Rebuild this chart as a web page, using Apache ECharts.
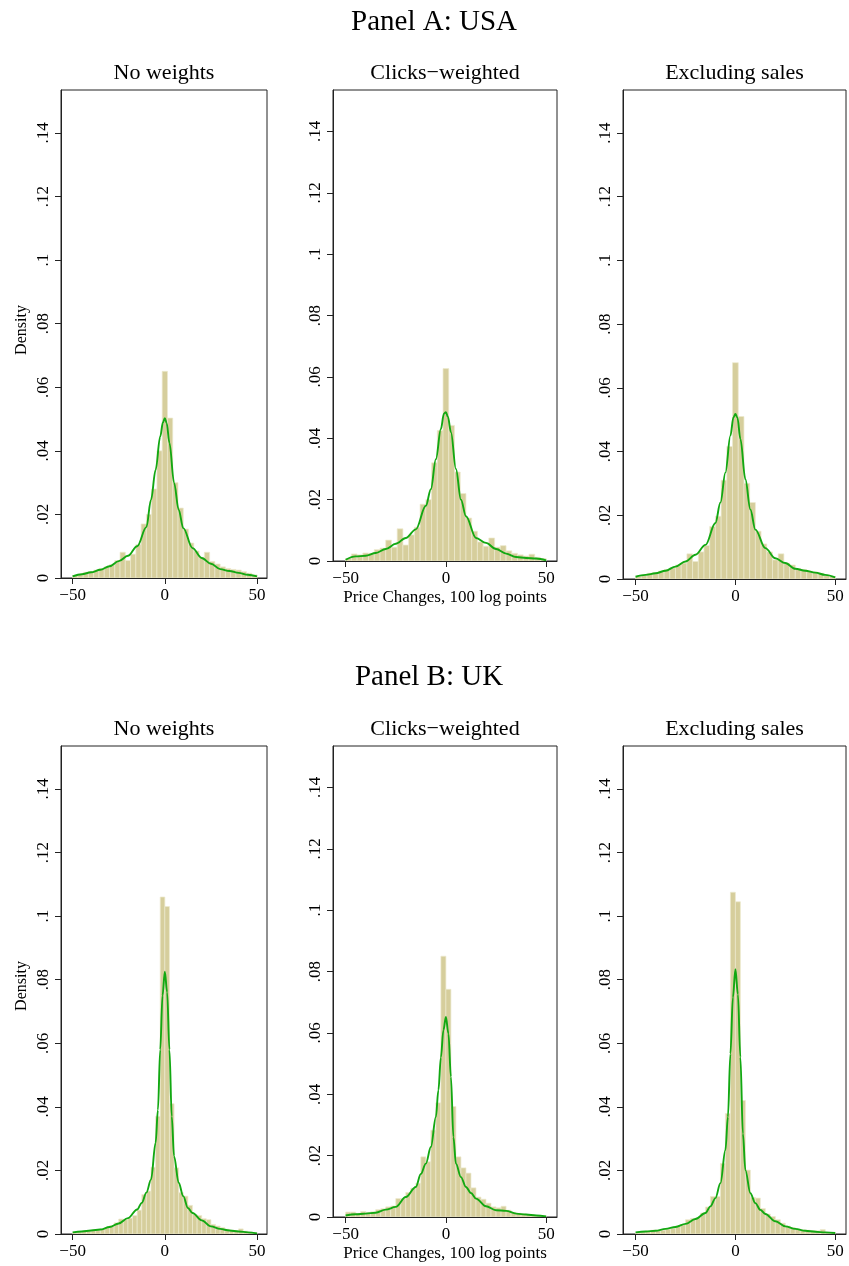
<!DOCTYPE html>
<html>
<head>
<meta charset="utf-8">
<script src="https://cdn.jsdelivr.net/npm/echarts@6/dist/echarts.min.js"></script>
<style>
html, body { margin: 0; padding: 0; background: #fff; }
#main { width: 849px; height: 1266px; }
</style>
</head>
<body>
<div id="main"></div>
<script>
var panelTitles = ['Panel A: USA', 'Panel B: UK'];
var subTitles = ['No weights', 'Clicks\u2212weighted', 'Excluding sales'];
var xTicks = [-50, 0, 50];
var yTicks = [0, 0.02, 0.04, 0.06, 0.08, 0.1, 0.12, 0.14];
var xTitle = 'Price Changes, 100 log points';
var yTitle = 'Density';

// histogram heights, bins evenly spread over -50..50 (35 bins in panel A, 40 in panel B)
var histUsaNoWeights = [0.0008, 0.0012, 0.0018, 0.002, 0.0025, 0.003, 0.0035, 0.0042, 0.0055, 0.0081,
	0.0055, 0.0075, 0.0105, 0.017, 0.020, 0.028, 0.040, 0.065, 0.0503, 0.030,
	0.022, 0.0154, 0.011, 0.0085, 0.0065, 0.0081, 0.0052, 0.0044, 0.0035, 0.003,
	0.0027, 0.0025, 0.002, 0.0015, 0.001];
var histUsaClicks = [0.0008, 0.0023, 0.002, 0.0026, 0.0025, 0.0037, 0.0042, 0.0068, 0.0045, 0.0105,
	0.0052, 0.0085, 0.011, 0.0185, 0.020, 0.032, 0.0425, 0.0627, 0.0442, 0.029,
	0.022, 0.014, 0.0097, 0.0062, 0.0048, 0.0075, 0.0045, 0.005, 0.0033, 0.0025,
	0.002, 0.0016, 0.0022, 0.0012, 0.0008];
var histUsaNoSales = [0.0008, 0.0012, 0.0018, 0.002, 0.0025, 0.003, 0.0035, 0.0044, 0.005, 0.0079,
	0.0055, 0.0085, 0.0105, 0.0165, 0.0197, 0.031, 0.0416, 0.0679, 0.051, 0.030,
	0.024, 0.015, 0.011, 0.0085, 0.006, 0.0079, 0.005, 0.0044, 0.0033, 0.003,
	0.0025, 0.0022, 0.0018, 0.0012, 0.0008];
var histUkNoWeights = [0.0004, 0.0006, 0.0009, 0.001, 0.0012, 0.0013, 0.0016, 0.002, 0.0026, 0.0035,
	0.0047, 0.0045, 0.005, 0.0058, 0.0075, 0.0124, 0.0135, 0.021, 0.037, 0.106,
	0.103, 0.041, 0.0208, 0.013, 0.0119, 0.009, 0.0061, 0.0058, 0.0048, 0.0045,
	0.003, 0.0025, 0.002, 0.0015, 0.0012, 0.001, 0.0016, 0.0009, 0.0006, 0.0004];
var histUkClicks = [0.0016, 0.0016, 0.0012, 0.0018, 0.0015, 0.0017, 0.0024, 0.0027, 0.0033, 0.0036,
	0.006, 0.006, 0.008, 0.0094, 0.011, 0.0196, 0.018, 0.0283, 0.0372, 0.085,
	0.0742, 0.036, 0.0196, 0.016, 0.0143, 0.0095, 0.0065, 0.0058, 0.0045, 0.0033,
	0.003, 0.0035, 0.0022, 0.0015, 0.0012, 0.001, 0.0008, 0.0006, 0.0005, 0.0003];
var histUkNoSales = [0.0004, 0.0006, 0.0009, 0.0012, 0.0012, 0.0012, 0.0015, 0.0018, 0.0025, 0.003,
	0.0045, 0.0049, 0.005, 0.0066, 0.0085, 0.0118, 0.0118, 0.0222, 0.0379, 0.1075,
	0.1045, 0.042, 0.0201, 0.0115, 0.0113, 0.008, 0.0063, 0.0055, 0.0045, 0.0034,
	0.0025, 0.002, 0.0016, 0.0013, 0.0012, 0.0011, 0.001, 0.0014, 0.0006, 0.0004];

// kernel density curves
var kdeXUsa = [-50, -45, -40, -35, -30, -25, -20, -15, -10, -7.5, -5, -2.5, -1, 0, 1, 2.5, 5, 7.5, 10, 15, 20, 25, 30, 35, 40, 45, 50];
var kdeUsaNoWeights = [0.0005, 0.0012, 0.0018, 0.0026, 0.0037, 0.0053, 0.007, 0.010, 0.016, 0.0246, 0.034, 0.0445, 0.049, 0.0503, 0.0487, 0.0425, 0.030, 0.0215, 0.0157, 0.0094, 0.0063, 0.0045, 0.0028, 0.0022, 0.0016, 0.001, 0.0005];
var kdeUsaClicks = [0.0004, 0.0015, 0.0017, 0.0026, 0.0039, 0.0056, 0.0075, 0.0103, 0.018, 0.0234, 0.0332, 0.043, 0.048, 0.0485, 0.047, 0.042, 0.030, 0.020, 0.0146, 0.0075, 0.0059, 0.0039, 0.0024, 0.0013, 0.001, 0.0008, 0.0002];
var kdeUsaNoSales = [0.0007, 0.0013, 0.0018, 0.0026, 0.0039, 0.0055, 0.0076, 0.0107, 0.0176, 0.024, 0.0334, 0.045, 0.0507, 0.0518, 0.0507, 0.044, 0.0313, 0.0218, 0.0155, 0.0097, 0.0065, 0.005, 0.0032, 0.0026, 0.002, 0.0013, 0.0005];
var kdeXUk = [-50, -45, -40, -35, -30, -25, -20, -15, -12.5, -10, -7.5, -5, -3.75, -2.5, -1.25, 0, 1.25, 2.5, 3.75, 5, 7.5, 10, 12.5, 15, 20, 25, 30, 35, 40, 45, 50];
var kdeUkNoWeights = [0.0005, 0.0008, 0.0011, 0.0014, 0.0022, 0.0033, 0.005, 0.0077, 0.0098, 0.013, 0.0171, 0.0287, 0.039, 0.058, 0.075, 0.0825, 0.076, 0.058, 0.037, 0.0245, 0.0161, 0.0119, 0.0082, 0.0066, 0.0043, 0.0024, 0.0016, 0.0011, 0.0008, 0.0005, 0.0002];
var kdeUkClicks = [0.0005, 0.0009, 0.0011, 0.0014, 0.0024, 0.0033, 0.0065, 0.0098, 0.014, 0.0174, 0.0228, 0.0326, 0.0413, 0.052, 0.0609, 0.0652, 0.0598, 0.0457, 0.026, 0.0174, 0.013, 0.0098, 0.0078, 0.006, 0.0035, 0.0022, 0.002, 0.0011, 0.0008, 0.0005, 0.0002];
var kdeUkNoSales = [0.0005, 0.0008, 0.001, 0.0016, 0.0022, 0.0032, 0.0047, 0.0066, 0.0087, 0.0113, 0.016, 0.0264, 0.0368, 0.0567, 0.0744, 0.0833, 0.0754, 0.0556, 0.0316, 0.0201, 0.0128, 0.0097, 0.0076, 0.0063, 0.004, 0.0024, 0.0016, 0.001, 0.0007, 0.0005, 0.0003];

var panels = [
	{ hist: histUsaNoWeights, kx: kdeXUsa, ky: kdeUsaNoWeights },
	{ hist: histUsaClicks, kx: kdeXUsa, ky: kdeUsaClicks },
	{ hist: histUsaNoSales, kx: kdeXUsa, ky: kdeUsaNoSales },
	{ hist: histUkNoWeights, kx: kdeXUk, ky: kdeUkNoWeights },
	{ hist: histUkClicks, kx: kdeXUk, ky: kdeUkClicks },
	{ hist: histUkNoSales, kx: kdeXUk, ky: kdeUkNoSales }
];

// plot boxes [left, top, width, height]
var boxes = [
	[61, 90, 206, 488], [333, 90, 224, 471], [623, 90, 223, 489],
	[61, 746, 206, 488], [333, 746, 224, 471], [623, 746, 223, 488]
];

var serif = 'Liberation Serif, Times New Roman, serif';
var barFill = '#d6ce9c';
var barEdge = '#ede9cf';
var kdeColor = '#12a812';

function minus(v) {
	return String(v).replace('-', '\u2212');
}

function histRows(vals) {
	var w = 100 / vals.length;
	return vals.map(function (v, i) {
		return [-50 + i * w, -50 + (i + 1) * w, v];
	});
}

function renderBar(params, api) {
	var p0 = api.coord([api.value(0), api.value(2)]);
	var p1 = api.coord([api.value(1), 0]);
	return {
		type: 'rect',
		shape: { x: p0[0], y: p0[1], width: p1[0] - p0[0], height: p1[1] - p0[1] },
		style: { fill: barFill, stroke: barEdge, lineWidth: 0.7 }
	};
}

var grids = [], xAxes = [], yAxes = [], series = [], graphics = [];

panels.forEach(function (p, i) {
	var b = boxes[i];
	var mid = (i % 3 == 1);
	grids.push({
		left: b[0], top: b[1], width: b[2], height: b[3],
		show: true, borderColor: '#222', borderWidth: 1, backgroundColor: '#fff'
	});
	xAxes.push({
		gridIndex: i, type: 'value', min: -56.3, max: 55.4,
		splitLine: { show: false },
		axisLine: { show: true, onZero: false, lineStyle: { color: '#222', width: 1 } },
		axisTick: { show: true, length: 6, customValues: xTicks, lineStyle: { color: '#222' } },
		axisLabel: {
			customValues: xTicks, margin: 9, color: '#000', fontFamily: serif, fontSize: 17,
			formatter: function (v) { return minus(v); }
		},
		name: mid ? xTitle : '', nameLocation: 'middle', nameGap: 28,
		nameTextStyle: { color: '#000', fontFamily: serif, fontSize: 17 }
	});
	yAxes.push({
		gridIndex: i, type: 'value', min: 0, max: 0.1535,
		splitLine: { show: false },
		axisLine: { show: true, onZero: false, lineStyle: { color: '#222', width: 1 } },
		axisTick: { show: true, length: 6, customValues: yTicks, lineStyle: { color: '#222' } },
		axisLabel: {
			customValues: yTicks, rotate: 90, margin: 9, color: '#000', fontFamily: serif, fontSize: 17,
			formatter: function (v) {
				if (v === 0) return '0';
				return String(+v.toFixed(2)).replace(/^0/, '');
			}
		}
	});
	series.push({
		type: 'custom', xAxisIndex: i, yAxisIndex: i,
		renderItem: renderBar, encode: { x: [0, 1], y: 2 },
		data: histRows(p.hist), clip: true, silent: true
	});
	series.push({
		type: 'line', xAxisIndex: i, yAxisIndex: i,
		data: p.kx.map(function (x, j) { return [x, p.ky[j]]; }),
		smooth: 0.35, smoothMonotone: 'x', showSymbol: false, silent: true,
		lineStyle: { color: kdeColor, width: 1.9 }
	});
	// column heading above each plot
	graphics.push({
		type: 'text', x: b[0] + b[2] / 2, y: b[1] - 17,
		style: { text: subTitles[i % 3], fill: '#000', font: '22px ' + serif, textAlign: 'center', textVerticalAlign: 'middle' }
	});
	if (i % 3 == 0) {
		graphics.push({
			type: 'text', x: 22, y: b[1] + b[3] / 2 - 4, rotation: Math.PI / 2,
			style: { text: yTitle, fill: '#000', font: '16px ' + serif, textAlign: 'center', textVerticalAlign: 'middle' }
		});
	}
});

graphics.push({
	type: 'text', x: 434, y: 22,
	style: { text: panelTitles[0], fill: '#000', font: '29px ' + serif, textAlign: 'center', textVerticalAlign: 'middle' }
});
graphics.push({
	type: 'text', x: 429, y: 677,
	style: { text: panelTitles[1], fill: '#000', font: '29px ' + serif, textAlign: 'center', textVerticalAlign: 'middle' }
});

var chart = echarts.init(document.getElementById('main'));
chart.setOption({
	backgroundColor: '#fff',
	animation: false,
	grid: grids,
	xAxis: xAxes,
	yAxis: yAxes,
	series: series,
	graphic: graphics
});
</script>
</body>
</html>
